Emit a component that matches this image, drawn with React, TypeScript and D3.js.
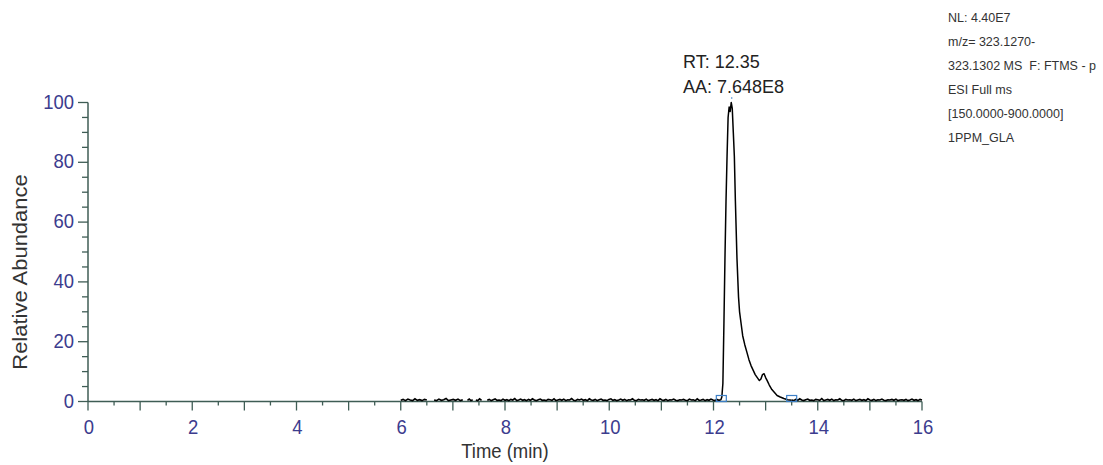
import React from "react";
import * as d3 from "d3";

// ---------- data ----------
const xTickLabels = [0, 2, 4, 6, 8, 10, 12, 14, 16];
const yTickLabels = [0, 20, 40, 60, 80, 100];

// baseline scan segments: time range and noise values (% relative abundance)
const baselineSegments = [
  { start: 6.0, end: 6.5, values: [0.4, 0.7, 0.3, 0.8, 0.5, 0.3, 0.9, 0.4, 0.6, 0.3, 0.7, 0.5] },
  { start: 6.64, end: 7.19, values: [0.5, 0.3, 0.8, 0.4, 0.6, 1.0, 0.3, 0.5, 0.7, 0.4, 0.8, 0.3, 0.6] },
  { start: 7.28, end: 7.38, values: [0.4, 0.8, 0.3, 0.6] },
  { start: 7.44, end: 7.55, values: [0.5, 0.3, 0.9, 0.4] },
  {
    start: 7.66,
    end: 12.14,
    values: [
      0.4, 0.7, 0.3, 0.6, 0.9, 0.4, 0.5, 0.3, 0.8, 0.4, 0.6, 0.3, 0.7, 0.5, 1.0, 0.3, 0.5, 0.8, 0.4, 0.6,
      0.3, 0.7, 0.4, 0.9, 0.5, 0.3, 0.6, 0.8, 0.4, 0.5, 0.3, 0.7, 0.6, 0.4, 0.9, 0.3, 0.5, 0.7, 0.4, 0.8,
      0.3, 0.6, 0.5, 1.0, 0.4, 0.3, 0.7, 0.5, 0.8, 0.4, 0.6, 0.3, 0.9, 0.5, 0.4, 0.7, 0.3, 0.6, 0.8, 0.4,
      0.5, 0.3, 0.7, 0.9, 0.4, 0.6, 0.3, 0.5, 0.8, 0.4, 0.7, 0.3, 0.6, 0.5, 0.9, 0.4, 0.3, 0.7, 0.5, 0.6,
      0.4, 0.8, 0.3, 0.5, 0.7, 0.4, 0.6, 0.3, 0.9, 0.5, 0.4, 0.7, 0.3, 0.6, 0.5, 0.8, 0.4, 0.3, 0.6, 0.5,
      0.7, 0.4, 0.3, 0.8, 0.5, 0.6, 0.3, 0.9, 0.4, 0.5, 0.7, 0.3, 0.6, 0.4, 0.8, 0.5, 0.3, 0.7, 0.4, 0.6,
    ],
  },
  {
    start: 13.5,
    end: 16.0,
    values: [
      0.5, 0.3, 0.7, 0.4, 0.9, 0.5, 0.3, 0.6, 0.8, 0.4, 0.5, 0.3, 0.7, 0.6, 0.4, 1.0, 0.3, 0.5, 0.7, 0.4,
      0.8, 0.3, 0.6, 0.5, 0.9, 0.4, 0.3, 0.7, 0.5, 0.6, 0.4, 0.8, 0.3, 0.5, 0.7, 0.4, 0.6, 0.3, 0.9, 0.5,
      0.4, 0.7, 0.3, 0.6, 0.5, 0.8, 0.4, 0.3, 0.6, 0.5, 0.7, 0.4, 0.8, 0.3, 0.5, 0.6, 0.4, 0.7, 0.3, 0.5,
      0.8, 0.4, 0.6, 0.3, 0.7, 0.5,
    ],
  },
];

// main peak (time, relative abundance)
const peakTimes = [
  12.14, 12.16, 12.18, 12.2, 12.22, 12.24, 12.26, 12.28, 12.3, 12.32, 12.34, 12.36, 12.38, 12.4, 12.42,
  12.45, 12.48, 12.5, 12.53, 12.56, 12.6, 12.64, 12.68, 12.72, 12.76, 12.8, 12.84, 12.88, 12.91, 12.94,
  12.97, 13.0, 13.03, 13.07, 13.12, 13.17, 13.22, 13.28, 13.35, 13.42, 13.5,
];
const peakValues = [
  0.5, 1.5, 6, 26, 48, 67, 82, 95, 98.5, 97, 100, 98, 90, 82, 67, 48, 35, 30, 26, 22, 19, 16.5, 14, 12,
  10.5, 9, 8, 7, 7.5, 9, 9.3, 8, 7, 5.5, 4, 3, 2, 1.5, 1, 0.6, 0.4,
];

const markerTimes = [12.15, 13.5];
const apexTime = 12.35;

const annotationLines = ["RT: 12.35", "AA: 7.648E8"];
const headerLines = [
  "NL: 4.40E7",
  "m/z= 323.1270-",
  "323.1302 MS  F: FTMS - p",
  "ESI Full ms",
  "[150.0000-900.0000]",
  "1PPM_GLA",
];

// ---------- layout ----------
const W = 1103;
const H = 465;
const axisColor = "#3f5d55";
const tickLabelColor = "#3c3c8e";
const font = "'Liberation Sans', Arial, sans-serif";

export default function App() {
  const x = d3.scaleLinear().domain([0, 16]).range([88, 922]);
  const y = d3.scaleLinear().domain([0, 100]).range([401.5, 102.5]);

  const line = d3
    .line<[number, number]>()
    .x((d) => x(d[0]))
    .y((d) => y(d[1]));

  const segPaths = baselineSegments.map((s) => {
    const idx = d3.scaleLinear().domain([0, s.values.length - 1]).range([s.start, s.end]);
    const pts: [number, number][] = s.values.map((v, i) => [idx(i), v]);
    return line(pts) || "";
  });
  const peakPts: [number, number][] = peakTimes.map((t, i) => [t, peakValues[i]]);
  const peakPath = line(peakPts) || "";

  const xMinor = d3.range(0, 16.001, 0.5);
  const yMinor = d3.range(0, 100.001, 5);

  return (
    <svg
      width={W}
      height={H}
      style={{ position: "absolute", left: 0, top: 0, background: "#fff" }}
      fontFamily={font}
    >
      <rect width={W} height={H} fill="#fff" />
      {/* axes */}
      <line x1={x(0)} x2={x(16)} y1={y(0)} y2={y(0)} stroke={axisColor} strokeWidth={1.5} />
      <line x1={x(0)} x2={x(0)} y1={y(100)} y2={y(0)} stroke={axisColor} strokeWidth={1.5} />
      {xMinor.map((t) => {
        const major = Math.abs(t - Math.round(t)) < 1e-6;
        return (
          <line
            key={"xt" + t}
            x1={x(t)}
            x2={x(t)}
            y1={y(0)}
            y2={y(0) + (major ? 9 : 4)}
            stroke={axisColor}
            strokeWidth={1.3}
          />
        );
      })}
      {yMinor.map((v) => {
        const major = v % 20 === 0;
        return (
          <line
            key={"yt" + v}
            x1={x(0) - (major ? 10 : 6)}
            x2={x(0)}
            y1={y(v)}
            y2={y(v)}
            stroke={axisColor}
            strokeWidth={1.3}
          />
        );
      })}
      {xTickLabels.map((t) => (
        <text
          key={"xl" + t}
          transform={`translate(${x(t) + 1},${434}) scale(0.88,1)`}
          textAnchor="middle"
          fontSize={21}
          fill={tickLabelColor}
        >
          {t}
        </text>
      ))}
      {yTickLabels.map((v) => (
        <text
          key={"yl" + v}
          transform={`translate(${74},${y(v) + 6}) scale(0.88,1)`}
          textAnchor="end"
          fontSize={21}
          fill={tickLabelColor}
        >
          {v}
        </text>
      ))}
      {/* axis titles */}
      <text
        transform={`translate(505,458) scale(0.88,1)`}
        textAnchor="middle"
        fontSize={21}
        fill="#333"
      >
        Time (min)
      </text>
      <text
        transform={`translate(27,272) rotate(-90) scale(1,0.9)`}
        textAnchor="middle"
        fontSize={22}
        fill="#333"
      >
        Relative Abundance
      </text>

      {/* trace */}
      {segPaths.map((p, i) => (
        <path key={"seg" + i} d={p} fill="none" stroke="#000" strokeWidth={1.6} />
      ))}
      <path d={peakPath} fill="none" stroke="#000" strokeWidth={1.5} strokeLinejoin="round" />

      {/* integration markers */}
      {markerTimes.map((t) => (
        <rect
          key={"m" + t}
          x={x(t) - 5}
          y={y(0) - 6}
          width={10}
          height={6}
          fill="none"
          stroke="#3d7fc6"
          strokeWidth={1.2}
        />
      ))}
      <circle cx={x(apexTime)} cy={y(101.5)} r={0.8} fill="#3d7fc6" />

      {/* peak annotation */}
      {annotationLines.map((s, i) => (
        <text key={"a" + i} x={683} y={68 + i * 25} fontSize={18} fill="#222">
          {s}
        </text>
      ))}

      {/* header */}
      {headerLines.map((s, i) => (
        <text
          key={"h" + i}
          x={948}
          y={22 + i * 24}
          fontSize={12.5}
          fill="#333"
          style={{ whiteSpace: "pre" }}
        >
          {s}
        </text>
      ))}
    </svg>
  );
}
